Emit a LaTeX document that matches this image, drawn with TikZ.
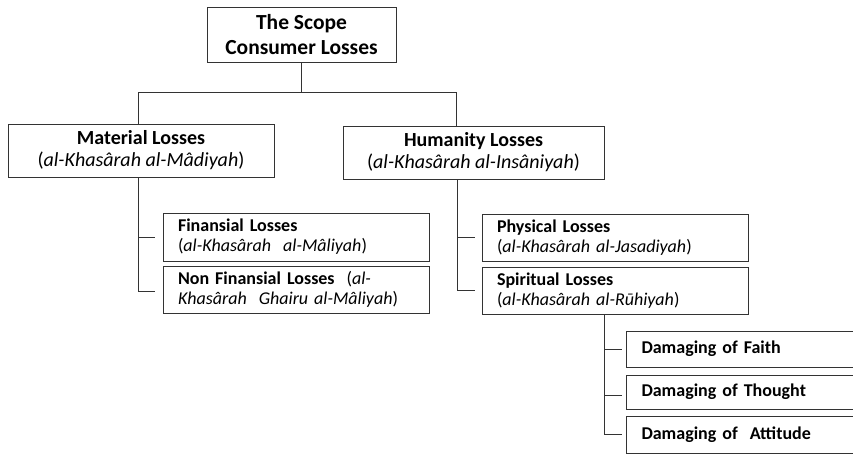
\documentclass[tikz,border=0pt]{standalone}
\usepackage{fontspec}
\setmainfont{Carlito}
\usetikzlibrary{positioning}

\tikzset{
  box/.style={draw=black!80, line width=1pt, inner sep=0pt, anchor=center},
  mainbox/.style={box, align=center, font=\fontsize{20}{22}\selectfont},
  subbox/.style={box, align=left, inner xsep=15pt, text width=236pt,
    minimum width=266pt, font=\fontsize{18}{20}\selectfont},
  dmgbox/.style={box, align=left, inner xsep=15pt, text width=270pt,
    minimum width=300pt, font=\fontsize{18}{20}\selectfont\bfseries},
  link/.style={draw=black!80, line width=1pt}
}

\begin{document}
\begin{tikzpicture}[x=1pt, y=-1pt]
  \clip (0,0) rectangle (853,453);

  % top and first level
  \node[mainbox, minimum width=189pt, minimum height=55pt, font=\fontsize{21.5}{25}\selectfont\bfseries]
    (scope) at (301.5,34.5) {The Scope\\Consumer Losses};
  \node[mainbox, minimum width=266pt, minimum height=53pt] (material) at (141,150.5)
    {\textbf{Material Losses}\\(\textit{al-Khasârah al-Mâdiyah})};
  \node[mainbox, minimum width=261pt, minimum height=53pt] (humanity) at (473.5,152.5)
    {\textbf{Humanity Losses}\\(\textit{al-Khasârah al-Insâniyah})};

  % second level
  \node[subbox, minimum height=48pt] (finansial) at (296,237)
    {\textbf{Finansial Losses}\\(\textit{al-Khasârah\ \ al-Mâliyah})};
  \node[subbox, minimum height=47pt] (nonfinansial) at (296,289.5)
    {\textbf{Non Finansial Losses} \ (\textit{al-}\\\textit{Khasârah\ \ Ghairu al-Mâliyah})};
  \node[subbox, minimum height=47pt] (physical) at (615,237.5)
    {\textbf{Physical Losses}\\(\textit{al-Khasârah al-Jasadiyah})};
  \node[subbox, minimum height=47pt] (spiritual) at (615,290.5)
    {\textbf{Spiritual Losses}\\(\textit{al-Khasârah al-Rūhiyah})};

  % third level
  \node[dmgbox, minimum height=36pt, anchor=west] (faith) at (626,349) {Damaging of Faith};
  \node[dmgbox, minimum height=34pt, anchor=west] (thought) at (626,392) {Damaging of Thought};
  \node[dmgbox, minimum height=37pt, anchor=west] (attitude) at (626,434.5) {Damaging of\ \ Attitude};

  % connectors
  \coordinate (busL) at (138,92);
  \coordinate (busR) at (456,92);
  \draw[link] (scope.south) -- (scope.south |- busL);
  \draw[link] (busL) -- (busR);
  \draw[link] (busL) -- (busL |- material.north);
  \draw[link] (busR) -- (busR |- humanity.north);

  \coordinate (matstem) at (138,177);
  \draw[link] (matstem) |- ([xshift=-8pt]finansial.west);
  \draw[link] (matstem) |- ([xshift=-8pt,yshift=-1.5pt]nonfinansial.west);

  \coordinate (humstem) at (457,179);
  \draw[link] (humstem) |- ([xshift=-7pt]physical.west);
  \draw[link] (humstem) |- ([xshift=-7pt]spiritual.west);

  \coordinate (spistem) at (604,314);
  \draw[link] (spistem) |- ([xshift=-4pt]faith.west);
  \draw[link] (spistem) |- ([xshift=-4pt,yshift=-3pt]thought.west);
  \draw[link] (spistem) |- ([xshift=-4pt]attitude.west);
\end{tikzpicture}
\end{document}
